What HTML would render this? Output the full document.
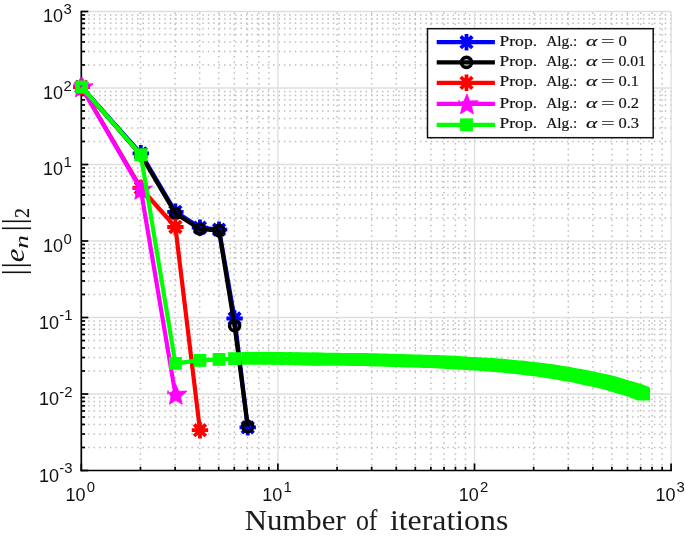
<!DOCTYPE html>
<html lang="en"><head><meta charset="utf-8"><title>Convergence plot</title>
<style>html,body{margin:0;padding:0;background:#fff;overflow:hidden}svg{display:block}.t{font-family:"Liberation Sans",sans-serif;fill:#111}.s{font-family:"Liberation Serif",serif;fill:#111;stroke:#111;stroke-width:0.18}</style></head><body>
<svg width="685" height="537" viewBox="0 0 685 537">
<rect width="685" height="537" fill="#fff"/>
<g stroke="#bdbdbd" stroke-width="1.5" fill="none" stroke-dasharray="1.5 3.94">
<path d="M81.3 447.47H671.70" stroke-dashoffset="4.09"/>
<path d="M81.3 434.00H671.70" stroke-dashoffset="4.09"/>
<path d="M81.3 424.44H671.70" stroke-dashoffset="4.09"/>
<path d="M81.3 417.03H671.70" stroke-dashoffset="4.09"/>
<path d="M81.3 410.97H671.70" stroke-dashoffset="4.09"/>
<path d="M81.3 405.85H671.70" stroke-dashoffset="4.09"/>
<path d="M81.3 401.41H671.70" stroke-dashoffset="4.09"/>
<path d="M81.3 397.50H671.70" stroke-dashoffset="4.09"/>
<path d="M81.3 370.97H671.70" stroke-dashoffset="4.09"/>
<path d="M81.3 357.50H671.70" stroke-dashoffset="4.09"/>
<path d="M81.3 347.94H671.70" stroke-dashoffset="4.09"/>
<path d="M81.3 340.53H671.70" stroke-dashoffset="4.09"/>
<path d="M81.3 334.47H671.70" stroke-dashoffset="4.09"/>
<path d="M81.3 329.35H671.70" stroke-dashoffset="4.09"/>
<path d="M81.3 324.91H671.70" stroke-dashoffset="4.09"/>
<path d="M81.3 321.00H671.70" stroke-dashoffset="4.09"/>
<path d="M81.3 294.47H671.70" stroke-dashoffset="4.09"/>
<path d="M81.3 281.00H671.70" stroke-dashoffset="4.09"/>
<path d="M81.3 271.44H671.70" stroke-dashoffset="4.09"/>
<path d="M81.3 264.03H671.70" stroke-dashoffset="4.09"/>
<path d="M81.3 257.97H671.70" stroke-dashoffset="4.09"/>
<path d="M81.3 252.85H671.70" stroke-dashoffset="4.09"/>
<path d="M81.3 248.41H671.70" stroke-dashoffset="4.09"/>
<path d="M81.3 244.50H671.70" stroke-dashoffset="4.09"/>
<path d="M81.3 217.97H671.70" stroke-dashoffset="4.09"/>
<path d="M81.3 204.50H671.70" stroke-dashoffset="4.09"/>
<path d="M81.3 194.94H671.70" stroke-dashoffset="4.09"/>
<path d="M81.3 187.53H671.70" stroke-dashoffset="4.09"/>
<path d="M81.3 181.47H671.70" stroke-dashoffset="4.09"/>
<path d="M81.3 176.35H671.70" stroke-dashoffset="4.09"/>
<path d="M81.3 171.91H671.70" stroke-dashoffset="4.09"/>
<path d="M81.3 168.00H671.70" stroke-dashoffset="4.09"/>
<path d="M81.3 141.47H671.70" stroke-dashoffset="4.09"/>
<path d="M81.3 128.00H671.70" stroke-dashoffset="4.09"/>
<path d="M81.3 118.44H671.70" stroke-dashoffset="4.09"/>
<path d="M81.3 111.03H671.70" stroke-dashoffset="4.09"/>
<path d="M81.3 104.97H671.70" stroke-dashoffset="4.09"/>
<path d="M81.3 99.85H671.70" stroke-dashoffset="4.09"/>
<path d="M81.3 95.41H671.70" stroke-dashoffset="4.09"/>
<path d="M81.3 91.50H671.70" stroke-dashoffset="4.09"/>
<path d="M81.3 64.97H671.70" stroke-dashoffset="4.09"/>
<path d="M81.3 51.50H671.70" stroke-dashoffset="4.09"/>
<path d="M81.3 41.94H671.70" stroke-dashoffset="4.09"/>
<path d="M81.3 34.53H671.70" stroke-dashoffset="4.09"/>
<path d="M81.3 28.47H671.70" stroke-dashoffset="4.09"/>
<path d="M81.3 23.35H671.70" stroke-dashoffset="4.09"/>
<path d="M81.3 18.91H671.70" stroke-dashoffset="4.09"/>
<path d="M81.3 15.00H671.70" stroke-dashoffset="4.09"/>
<path d="M140.48 470.5V10.90" stroke-dashoffset="0.49"/>
<path d="M175.10 470.5V10.90" stroke-dashoffset="0.49"/>
<path d="M199.66 470.5V10.90" stroke-dashoffset="0.49"/>
<path d="M218.72 470.5V10.90" stroke-dashoffset="0.49"/>
<path d="M234.28 470.5V10.90" stroke-dashoffset="0.49"/>
<path d="M247.45 470.5V10.90" stroke-dashoffset="0.49"/>
<path d="M258.85 470.5V10.90" stroke-dashoffset="0.49"/>
<path d="M268.90 470.5V10.90" stroke-dashoffset="0.49"/>
<path d="M337.08 470.5V10.90" stroke-dashoffset="0.49"/>
<path d="M371.70 470.5V10.90" stroke-dashoffset="0.49"/>
<path d="M396.26 470.5V10.90" stroke-dashoffset="0.49"/>
<path d="M415.32 470.5V10.90" stroke-dashoffset="0.49"/>
<path d="M430.88 470.5V10.90" stroke-dashoffset="0.49"/>
<path d="M444.05 470.5V10.90" stroke-dashoffset="0.49"/>
<path d="M455.45 470.5V10.90" stroke-dashoffset="0.49"/>
<path d="M465.50 470.5V10.90" stroke-dashoffset="0.49"/>
<path d="M533.68 470.5V10.90" stroke-dashoffset="0.49"/>
<path d="M568.30 470.5V10.90" stroke-dashoffset="0.49"/>
<path d="M592.86 470.5V10.90" stroke-dashoffset="0.49"/>
<path d="M611.92 470.5V10.90" stroke-dashoffset="0.49"/>
<path d="M627.48 470.5V10.90" stroke-dashoffset="0.49"/>
<path d="M640.65 470.5V10.90" stroke-dashoffset="0.49"/>
<path d="M652.05 470.5V10.90" stroke-dashoffset="0.49"/>
<path d="M662.10 470.5V10.90" stroke-dashoffset="0.49"/>
</g>
<g stroke="#dedede" stroke-width="1.3" fill="none">
<path d="M277.90 470.5V11.5"/>
<path d="M474.50 470.5V11.5"/>
<path d="M671.10 470.5V11.5"/>
<path d="M81.3 394.00H671.1"/>
<path d="M81.3 317.50H671.1"/>
<path d="M81.3 241.00H671.1"/>
<path d="M81.3 164.50H671.1"/>
<path d="M81.3 88.00H671.1"/>
<path d="M81.3 11.50H671.1"/>
</g>
<g stroke="#000" stroke-width="1.7" fill="none" stroke-linecap="butt">
<path d="M81.3 10.65V471.35"/>
<path d="M80.45 470.5H671.95"/>
<path d="M81.30 470.5v-7.0"/>
<path d="M140.48 470.5v-3.8"/>
<path d="M175.10 470.5v-3.8"/>
<path d="M199.66 470.5v-3.8"/>
<path d="M218.72 470.5v-3.8"/>
<path d="M234.28 470.5v-3.8"/>
<path d="M247.45 470.5v-3.8"/>
<path d="M258.85 470.5v-3.8"/>
<path d="M268.90 470.5v-3.8"/>
<path d="M277.90 470.5v-7.0"/>
<path d="M337.08 470.5v-3.8"/>
<path d="M371.70 470.5v-3.8"/>
<path d="M396.26 470.5v-3.8"/>
<path d="M415.32 470.5v-3.8"/>
<path d="M430.88 470.5v-3.8"/>
<path d="M444.05 470.5v-3.8"/>
<path d="M455.45 470.5v-3.8"/>
<path d="M465.50 470.5v-3.8"/>
<path d="M474.50 470.5v-7.0"/>
<path d="M533.68 470.5v-3.8"/>
<path d="M568.30 470.5v-3.8"/>
<path d="M592.86 470.5v-3.8"/>
<path d="M611.92 470.5v-3.8"/>
<path d="M627.48 470.5v-3.8"/>
<path d="M640.65 470.5v-3.8"/>
<path d="M652.05 470.5v-3.8"/>
<path d="M662.10 470.5v-3.8"/>
<path d="M671.10 470.5v-7.0"/>
<path d="M81.3 470.50h7.0"/>
<path d="M81.3 447.47h3.8"/>
<path d="M81.3 434.00h3.8"/>
<path d="M81.3 424.44h3.8"/>
<path d="M81.3 417.03h3.8"/>
<path d="M81.3 410.97h3.8"/>
<path d="M81.3 405.85h3.8"/>
<path d="M81.3 401.41h3.8"/>
<path d="M81.3 397.50h3.8"/>
<path d="M81.3 394.00h7.0"/>
<path d="M81.3 370.97h3.8"/>
<path d="M81.3 357.50h3.8"/>
<path d="M81.3 347.94h3.8"/>
<path d="M81.3 340.53h3.8"/>
<path d="M81.3 334.47h3.8"/>
<path d="M81.3 329.35h3.8"/>
<path d="M81.3 324.91h3.8"/>
<path d="M81.3 321.00h3.8"/>
<path d="M81.3 317.50h7.0"/>
<path d="M81.3 294.47h3.8"/>
<path d="M81.3 281.00h3.8"/>
<path d="M81.3 271.44h3.8"/>
<path d="M81.3 264.03h3.8"/>
<path d="M81.3 257.97h3.8"/>
<path d="M81.3 252.85h3.8"/>
<path d="M81.3 248.41h3.8"/>
<path d="M81.3 244.50h3.8"/>
<path d="M81.3 241.00h7.0"/>
<path d="M81.3 217.97h3.8"/>
<path d="M81.3 204.50h3.8"/>
<path d="M81.3 194.94h3.8"/>
<path d="M81.3 187.53h3.8"/>
<path d="M81.3 181.47h3.8"/>
<path d="M81.3 176.35h3.8"/>
<path d="M81.3 171.91h3.8"/>
<path d="M81.3 168.00h3.8"/>
<path d="M81.3 164.50h7.0"/>
<path d="M81.3 141.47h3.8"/>
<path d="M81.3 128.00h3.8"/>
<path d="M81.3 118.44h3.8"/>
<path d="M81.3 111.03h3.8"/>
<path d="M81.3 104.97h3.8"/>
<path d="M81.3 99.85h3.8"/>
<path d="M81.3 95.41h3.8"/>
<path d="M81.3 91.50h3.8"/>
<path d="M81.3 88.00h7.0"/>
<path d="M81.3 64.97h3.8"/>
<path d="M81.3 51.50h3.8"/>
<path d="M81.3 41.94h3.8"/>
<path d="M81.3 34.53h3.8"/>
<path d="M81.3 28.47h3.8"/>
<path d="M81.3 23.35h3.8"/>
<path d="M81.3 18.91h3.8"/>
<path d="M81.3 15.00h3.8"/>
<path d="M81.3 11.50h7.0"/>
</g>
<g class="t">
<text x="65.60" y="500.5" font-size="18.0">10</text><text x="86.80" y="492.0" font-size="14.9">0</text>
<text x="262.20" y="500.5" font-size="18.0">10</text><text x="283.40" y="492.0" font-size="14.9">1</text>
<text x="458.80" y="500.5" font-size="18.0">10</text><text x="480.00" y="492.0" font-size="14.9">2</text>
<text x="655.40" y="500.5" font-size="18.0">10</text><text x="676.60" y="492.0" font-size="14.9">3</text>
<text x="38.9" y="481.70" font-size="18.0">10</text><text x="59.2" y="473.40" font-size="14.9">-3</text>
<text x="38.9" y="405.20" font-size="18.0">10</text><text x="59.2" y="396.90" font-size="14.9">-2</text>
<text x="38.9" y="328.70" font-size="18.0">10</text><text x="59.2" y="320.40" font-size="14.9">-1</text>
<text x="43.0" y="251.70" font-size="18.0">10</text><text x="63.4" y="243.80" font-size="14.9">0</text>
<text x="43.0" y="175.20" font-size="18.0">10</text><text x="63.4" y="167.30" font-size="14.9">1</text>
<text x="43.0" y="98.70" font-size="18.0">10</text><text x="63.4" y="90.80" font-size="14.9">2</text>
<text x="43.0" y="22.20" font-size="18.0">10</text><text x="63.4" y="14.30" font-size="14.9">3</text>
</g>
<g class="s">
<text x="244.7" y="530.0" font-size="28.8" stroke-width="0" fill="#1c1c1c" textLength="101.0" lengthAdjust="spacingAndGlyphs">Number</text><text x="355.9" y="530.0" font-size="28.8" stroke-width="0" fill="#1c1c1c" textLength="21.6" lengthAdjust="spacingAndGlyphs">of</text><text x="389.9" y="530.0" font-size="28.8" stroke-width="0" fill="#1c1c1c" textLength="118.4" lengthAdjust="spacingAndGlyphs">iterations</text>
<g transform="rotate(-90)">
<text x="-275.60" y="24.4" font-size="32" stroke-width="0">|</text>
<text x="-268.60" y="24.4" font-size="32" stroke-width="0">|</text>
<text x="-231.60" y="24.4" font-size="32" stroke-width="0">|</text>
<text x="-224.40" y="24.4" font-size="32" stroke-width="0">|</text>
<text x="-262.3" y="23.6" font-size="28" stroke-width="0" font-style="italic" textLength="13.7" lengthAdjust="spacingAndGlyphs">e</text>
<text x="-248.8" y="28.4" font-size="19.3" stroke-width="0" font-style="italic" textLength="13.6" lengthAdjust="spacingAndGlyphs">n</text>
<text x="-218.1" y="29.1" font-size="20.2">2</text>
</g>
</g>
<g>
<path d="M81.50 87.00L140.78 153.30L175.40 211.80L199.96 227.60L219.02 229.60L234.58 318.50L247.75 427.40" stroke="#0000ff" stroke-width="4.2" fill="none" stroke-linejoin="round"/>
<path d="M81.50 78.80L81.50 95.20M73.30 87.00L89.70 87.00M75.70 81.20L87.30 92.80M87.30 81.20L75.70 92.80" stroke="#0000ff" stroke-width="3.8" fill="none"/><path d="M140.78 145.10L140.78 161.50M132.58 153.30L148.98 153.30M134.98 147.50L146.58 159.10M146.58 147.50L134.98 159.10" stroke="#0000ff" stroke-width="3.8" fill="none"/><path d="M175.40 203.60L175.40 220.00M167.20 211.80L183.60 211.80M169.60 206.00L181.20 217.60M181.20 206.00L169.60 217.60" stroke="#0000ff" stroke-width="3.8" fill="none"/><path d="M199.96 219.40L199.96 235.80M191.76 227.60L208.16 227.60M194.17 221.80L205.76 233.40M205.76 221.80L194.17 233.40" stroke="#0000ff" stroke-width="3.8" fill="none"/><path d="M219.02 221.40L219.02 237.80M210.82 229.60L227.22 229.60M213.22 223.80L224.82 235.40M224.82 223.80L213.22 235.40" stroke="#0000ff" stroke-width="3.8" fill="none"/><path d="M234.58 310.30L234.58 326.70M226.38 318.50L242.78 318.50M228.79 312.70L240.38 324.30M240.38 312.70L228.79 324.30" stroke="#0000ff" stroke-width="3.8" fill="none"/><path d="M247.75 419.20L247.75 435.60M239.55 427.40L255.95 427.40M241.95 421.60L253.54 433.20M253.54 421.60L241.95 433.20" stroke="#0000ff" stroke-width="3.8" fill="none"/>
<path d="M81.50 87.00L140.78 154.80L175.40 213.40L199.96 229.00L219.02 230.60L234.58 325.80L247.75 426.60" stroke="#000" stroke-width="4.2" fill="none" stroke-linejoin="round"/>
<circle cx="81.50" cy="87.00" r="5.0" stroke="#000" stroke-width="3.6" fill="none"/><circle cx="140.78" cy="154.80" r="5.0" stroke="#000" stroke-width="3.6" fill="none"/><circle cx="175.40" cy="213.40" r="5.0" stroke="#000" stroke-width="3.6" fill="none"/><circle cx="199.96" cy="229.00" r="5.0" stroke="#000" stroke-width="3.6" fill="none"/><circle cx="219.02" cy="230.60" r="5.0" stroke="#000" stroke-width="3.6" fill="none"/><circle cx="234.58" cy="325.80" r="5.0" stroke="#000" stroke-width="3.6" fill="none"/><circle cx="247.75" cy="426.60" r="5.0" stroke="#000" stroke-width="3.6" fill="none"/>
<path d="M81.50 87.00L140.78 188.00L175.40 227.00L199.96 430.20" stroke="#ff0000" stroke-width="4.2" fill="none" stroke-linejoin="round"/>
<path d="M81.50 78.80L81.50 95.20M73.30 87.00L89.70 87.00M75.70 81.20L87.30 92.80M87.30 81.20L75.70 92.80" stroke="#ff0000" stroke-width="3.8" fill="none"/><path d="M140.78 179.80L140.78 196.20M132.58 188.00L148.98 188.00M134.98 182.20L146.58 193.80M146.58 182.20L134.98 193.80" stroke="#ff0000" stroke-width="3.8" fill="none"/><path d="M175.40 218.80L175.40 235.20M167.20 227.00L183.60 227.00M169.60 221.20L181.20 232.80M181.20 221.20L169.60 232.80" stroke="#ff0000" stroke-width="3.8" fill="none"/><path d="M199.96 422.00L199.96 438.40M191.76 430.20L208.16 430.20M194.17 424.40L205.76 436.00M205.76 424.40L194.17 436.00" stroke="#ff0000" stroke-width="3.8" fill="none"/>
<path d="M81.50 87.00L140.78 189.40L175.40 394.30" stroke="#ff00ff" stroke-width="4.2" fill="none" stroke-linejoin="round"/>
<polygon points="81.90,77.05 84.81,84.05 93.16,83.75 86.61,89.58 88.37,96.95 81.90,93.00 75.43,96.95 77.19,89.58 74.04,83.35 73.64,86.55 78.99,84.05" fill="#ff00ff" stroke="#ff00ff" stroke-width="0.8" stroke-linejoin="round"/><polygon points="141.18,179.45 144.09,186.45 152.44,186.15 145.89,191.98 147.65,199.35 141.18,195.40 134.72,199.35 136.47,191.98 133.32,185.75 132.92,188.95 138.27,186.45" fill="#ff00ff" stroke="#ff00ff" stroke-width="0.8" stroke-linejoin="round"/><polygon points="175.80,384.35 178.71,391.35 187.06,391.05 180.51,396.88 182.27,404.25 175.80,400.30 169.34,404.25 171.09,396.88 167.94,390.65 167.54,393.85 172.89,391.35" fill="#ff00ff" stroke="#ff00ff" stroke-width="0.8" stroke-linejoin="round"/>
<path d="M81.60 87.00L140.78 154.70L175.40 363.40L199.96 360.40L219.02 359.40L234.58 358.60L247.75 358.30L259.15 358.30L269.20 358.30L278.20 358.41L286.34 358.50L293.77 358.68L300.60 358.85L306.93 359.00L312.82 359.06L318.33 359.11" stroke="#00ff00" stroke-width="4.2" fill="none" stroke-linejoin="round"/>
<rect x="77.50" y="82.90" width="8.20" height="8.20" fill="none" stroke="#00ff00" stroke-width="4.6"/><rect x="136.68" y="150.60" width="8.20" height="8.20" fill="none" stroke="#00ff00" stroke-width="4.6"/><rect x="171.30" y="359.30" width="8.20" height="8.20" fill="none" stroke="#00ff00" stroke-width="4.6"/><rect x="195.86" y="356.30" width="8.20" height="8.20" fill="none" stroke="#00ff00" stroke-width="4.6"/><rect x="214.92" y="355.30" width="8.20" height="8.20" fill="none" stroke="#00ff00" stroke-width="4.6"/><rect x="230.48" y="354.50" width="8.20" height="8.20" fill="none" stroke="#00ff00" stroke-width="4.6"/><rect x="243.65" y="354.20" width="8.20" height="8.20" fill="none" stroke="#00ff00" stroke-width="4.6"/><rect x="255.05" y="354.20" width="8.20" height="8.20" fill="none" stroke="#00ff00" stroke-width="4.6"/><rect x="265.10" y="354.20" width="8.20" height="8.20" fill="none" stroke="#00ff00" stroke-width="4.6"/><rect x="274.10" y="354.31" width="8.20" height="8.20" fill="none" stroke="#00ff00" stroke-width="4.6"/><rect x="282.24" y="354.40" width="8.20" height="8.20" fill="none" stroke="#00ff00" stroke-width="4.6"/><rect x="289.67" y="354.58" width="8.20" height="8.20" fill="none" stroke="#00ff00" stroke-width="4.6"/><rect x="296.50" y="354.75" width="8.20" height="8.20" fill="none" stroke="#00ff00" stroke-width="4.6"/><rect x="302.83" y="354.90" width="8.20" height="8.20" fill="none" stroke="#00ff00" stroke-width="4.6"/><rect x="308.72" y="354.96" width="8.20" height="8.20" fill="none" stroke="#00ff00" stroke-width="4.6"/><rect x="314.23" y="355.01" width="8.20" height="8.20" fill="none" stroke="#00ff00" stroke-width="4.6"/>
<polygon fill="#00ff00" points="311.9,352.7 314.3,352.7 316.8,352.7 319.2,352.7 321.6,352.7 324.0,352.7 326.4,352.7 328.8,352.8 331.2,352.8 333.7,352.8 336.1,352.8 338.5,352.8 340.9,352.9 343.3,352.9 345.7,352.9 348.2,352.9 350.6,353.0 353.0,353.0 355.4,353.0 357.8,353.0 360.2,353.1 362.6,353.1 365.1,353.1 367.5,353.1 369.9,353.2 372.3,353.2 374.7,353.2 377.1,353.3 379.5,353.4 382.0,353.4 384.4,353.5 386.8,353.6 389.2,353.7 391.6,353.7 394.0,353.8 396.4,353.9 398.9,354.0 401.3,354.0 403.7,354.1 406.1,354.2 408.5,354.2 410.9,354.3 413.3,354.4 415.8,354.5 418.2,354.5 420.6,354.6 423.0,354.7 425.4,354.8 427.8,354.8 430.3,354.9 432.7,355.0 435.1,355.0 437.5,355.1 439.9,355.2 442.3,355.3 444.7,355.3 447.2,355.4 449.6,355.5 452.0,355.7 454.4,355.8 456.8,356.0 459.2,356.1 461.6,356.3 464.1,356.4 466.5,356.6 468.9,356.7 471.3,356.9 473.7,357.0 476.1,357.1 478.5,357.3 481.0,357.4 483.4,357.5 485.8,357.7 488.2,357.8 490.6,357.9 493.0,358.0 495.4,358.2 497.9,358.4 500.3,358.6 502.7,358.8 505.1,359.1 507.5,359.3 509.9,359.5 512.4,359.7 514.8,359.9 517.2,360.2 519.6,360.4 522.0,360.6 524.4,360.8 526.8,361.1 529.3,361.4 531.7,361.7 534.1,362.0 536.5,362.3 538.9,362.6 541.3,362.8 543.7,363.1 546.2,363.4 548.6,363.7 551.0,364.0 553.4,364.3 555.8,364.7 558.2,365.1 560.6,365.5 563.1,365.9 565.5,366.3 567.9,366.7 570.3,367.1 572.7,367.5 575.1,368.0 577.5,368.4 580.0,368.8 582.4,369.2 584.8,369.7 587.2,370.2 589.6,370.7 592.0,371.2 594.5,371.7 596.9,372.2 599.3,372.7 601.7,373.3 604.1,373.8 606.5,374.3 608.9,374.8 611.4,375.3 613.8,375.9 616.2,376.6 618.6,377.3 621.0,378.0 623.4,378.8 625.8,379.5 628.3,380.2 630.7,380.9 633.1,381.6 635.5,382.3 637.9,383.0 640.3,383.7 642.7,384.6 645.2,385.6 647.6,386.6 650.0,387.6 650.0,400.4 647.6,400.4 645.2,400.4 642.7,400.4 640.3,400.4 637.9,400.4 635.5,399.7 633.1,398.7 630.7,397.7 628.3,396.7 625.8,396.0 623.4,395.3 621.0,394.6 618.6,393.9 616.2,393.2 613.8,392.5 611.4,391.8 608.9,391.1 606.5,390.3 604.1,389.6 601.7,388.9 599.3,388.3 596.9,387.8 594.5,387.2 592.0,386.7 589.6,386.2 587.2,385.7 584.8,385.2 582.4,384.7 580.0,384.2 577.5,383.6 575.1,383.1 572.7,382.6 570.3,382.1 567.9,381.7 565.5,381.3 563.1,380.9 560.6,380.5 558.2,380.1 555.8,379.6 553.4,379.2 551.0,378.8 548.6,378.4 546.2,378.0 543.7,377.6 541.3,377.2 538.9,376.9 536.5,376.6 534.1,376.3 531.7,376.0 529.3,375.7 526.8,375.4 524.4,375.1 522.0,374.9 519.6,374.6 517.2,374.3 514.8,374.0 512.4,373.7 509.9,373.5 507.5,373.3 505.1,373.0 502.7,372.8 500.3,372.6 497.9,372.4 495.4,372.1 493.0,371.9 490.6,371.7 488.2,371.5 485.8,371.3 483.4,371.0 481.0,370.9 478.5,370.8 476.1,370.6 473.7,370.5 471.3,370.4 468.9,370.2 466.5,370.1 464.1,370.0 461.6,369.8 459.2,369.7 456.8,369.6 454.4,369.4 452.0,369.3 449.6,369.1 447.2,369.0 444.7,368.8 442.3,368.7 439.9,368.5 437.5,368.4 435.1,368.2 432.7,368.1 430.3,368.1 427.8,368.0 425.4,367.9 423.0,367.9 420.6,367.8 418.2,367.7 415.8,367.6 413.3,367.6 410.9,367.5 408.5,367.4 406.1,367.4 403.7,367.3 401.3,367.2 398.9,367.1 396.4,367.1 394.0,367.0 391.6,366.9 389.2,366.9 386.8,366.8 384.4,366.7 382.0,366.6 379.5,366.6 377.1,366.5 374.7,366.4 372.3,366.3 369.9,366.3 367.5,366.2 365.1,366.1 362.6,366.0 360.2,366.0 357.8,366.0 355.4,365.9 353.0,365.9 350.6,365.9 348.2,365.9 345.7,365.8 343.3,365.8 340.9,365.8 338.5,365.8 336.1,365.7 333.7,365.7 331.2,365.7 328.8,365.7 326.4,365.7 324.0,365.6 321.6,365.6 319.2,365.6 316.8,365.6 314.3,365.5 311.9,365.5"/>
</g>
<rect x="427.5" y="28.7" width="225.70" height="109.00" fill="#fff" stroke="#111" stroke-width="1.5"/>
<path d="M436.7 42.2H494.9" stroke="#0000ff" stroke-width="4.2"/>
<path d="M466.50 34.00L466.50 50.40M458.30 42.20L474.70 42.20M460.70 36.40L472.30 48.00M472.30 36.40L460.70 48.00" stroke="#0000ff" stroke-width="3.8" fill="none"/>
<text class="s" x="499.5" y="45.80" font-size="15.3" textLength="37.6" lengthAdjust="spacingAndGlyphs">Prop.</text><text class="s" x="546.2" y="45.80" font-size="15.3" textLength="31.2" lengthAdjust="spacingAndGlyphs">Alg.:</text><text class="s" x="586.0" y="45.80" font-size="15.3" font-style="italic" textLength="11.4" lengthAdjust="spacingAndGlyphs">α</text><text class="s" x="600.9" y="45.80" font-size="15.3" textLength="13.6" lengthAdjust="spacingAndGlyphs">=</text><text class="s" x="618.4" y="45.80" font-size="15.3" textLength="8.3" lengthAdjust="spacingAndGlyphs">0</text>
<path d="M436.7 62.4H494.9" stroke="#000" stroke-width="4.2"/>
<circle cx="466.50" cy="62.40" r="5.0" stroke="#000" stroke-width="3.6" fill="none"/>
<text class="s" x="499.5" y="66.00" font-size="15.3" textLength="37.6" lengthAdjust="spacingAndGlyphs">Prop.</text><text class="s" x="546.2" y="66.00" font-size="15.3" textLength="31.2" lengthAdjust="spacingAndGlyphs">Alg.:</text><text class="s" x="586.0" y="66.00" font-size="15.3" font-style="italic" textLength="11.4" lengthAdjust="spacingAndGlyphs">α</text><text class="s" x="600.9" y="66.00" font-size="15.3" textLength="13.6" lengthAdjust="spacingAndGlyphs">=</text><text class="s" x="618.4" y="66.00" font-size="15.3" textLength="27.6" lengthAdjust="spacingAndGlyphs">0.01</text>
<path d="M436.7 82.8H494.9" stroke="#ff0000" stroke-width="4.2"/>
<path d="M466.50 74.60L466.50 91.00M458.30 82.80L474.70 82.80M460.70 77.00L472.30 88.60M472.30 77.00L460.70 88.60" stroke="#ff0000" stroke-width="3.8" fill="none"/>
<text class="s" x="499.5" y="86.40" font-size="15.3" textLength="37.6" lengthAdjust="spacingAndGlyphs">Prop.</text><text class="s" x="546.2" y="86.40" font-size="15.3" textLength="31.2" lengthAdjust="spacingAndGlyphs">Alg.:</text><text class="s" x="586.0" y="86.40" font-size="15.3" font-style="italic" textLength="11.4" lengthAdjust="spacingAndGlyphs">α</text><text class="s" x="600.9" y="86.40" font-size="15.3" textLength="13.6" lengthAdjust="spacingAndGlyphs">=</text><text class="s" x="618.4" y="86.40" font-size="15.3" textLength="20.6" lengthAdjust="spacingAndGlyphs">0.1</text>
<path d="M436.7 103.9H494.9" stroke="#ff00ff" stroke-width="4.2"/>
<polygon points="466.90,93.95 469.81,100.95 478.16,100.65 471.61,106.48 473.37,113.85 466.90,109.90 460.43,113.85 462.19,106.48 459.04,100.25 458.64,103.45 463.99,100.95" fill="#ff00ff" stroke="#ff00ff" stroke-width="0.8" stroke-linejoin="round"/>
<text class="s" x="499.5" y="107.50" font-size="15.3" textLength="37.6" lengthAdjust="spacingAndGlyphs">Prop.</text><text class="s" x="546.2" y="107.50" font-size="15.3" textLength="31.2" lengthAdjust="spacingAndGlyphs">Alg.:</text><text class="s" x="586.0" y="107.50" font-size="15.3" font-style="italic" textLength="11.4" lengthAdjust="spacingAndGlyphs">α</text><text class="s" x="600.9" y="107.50" font-size="15.3" textLength="13.6" lengthAdjust="spacingAndGlyphs">=</text><text class="s" x="618.4" y="107.50" font-size="15.3" textLength="20.6" lengthAdjust="spacingAndGlyphs">0.2</text>
<path d="M436.7 124.8H494.9" stroke="#00ff00" stroke-width="4.2"/>
<rect x="462.40" y="120.70" width="8.20" height="8.20" fill="none" stroke="#00ff00" stroke-width="4.6"/>
<text class="s" x="499.5" y="128.40" font-size="15.3" textLength="37.6" lengthAdjust="spacingAndGlyphs">Prop.</text><text class="s" x="546.2" y="128.40" font-size="15.3" textLength="31.2" lengthAdjust="spacingAndGlyphs">Alg.:</text><text class="s" x="586.0" y="128.40" font-size="15.3" font-style="italic" textLength="11.4" lengthAdjust="spacingAndGlyphs">α</text><text class="s" x="600.9" y="128.40" font-size="15.3" textLength="13.6" lengthAdjust="spacingAndGlyphs">=</text><text class="s" x="618.4" y="128.40" font-size="15.3" textLength="20.6" lengthAdjust="spacingAndGlyphs">0.3</text>
</svg></body></html>
